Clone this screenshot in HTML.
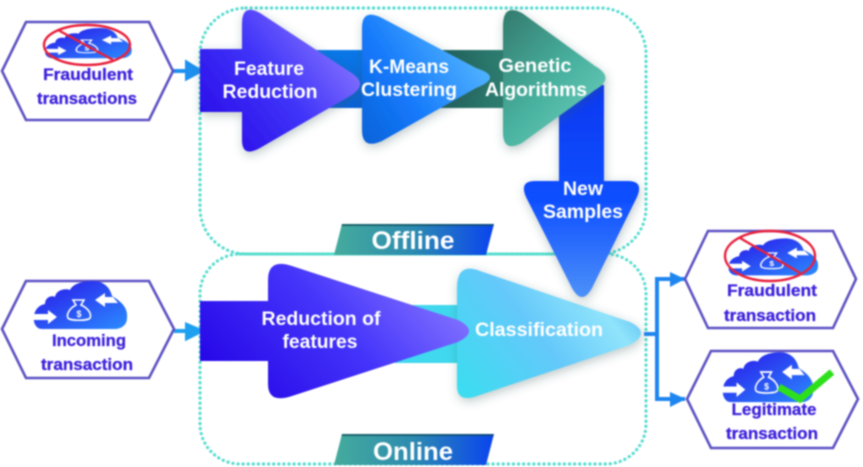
<!DOCTYPE html>
<html>
<head>
<meta charset="utf-8">
<style>
html,body{margin:0;padding:0;background:#fff;width:863px;height:467px;overflow:hidden}
svg{display:block;filter:blur(.7px)}
.w{font-family:"Liberation Sans",sans-serif;font-weight:700;fill:#fff;font-size:19px;text-anchor:middle}
.p{font-family:"Liberation Sans",sans-serif;font-weight:700;fill:#3d22dc;stroke:#3d22dc;stroke-width:.3;font-size:17px;text-anchor:middle}
.h{fill:#fff;stroke:#5c52c2;stroke-width:2.6;stroke-linejoin:miter}
.d{fill:none;stroke:#55dccf;stroke-width:3.2;stroke-dasharray:.1 5;stroke-linecap:round}
</style>
</head>
<body>
<svg width="863" height="467" viewBox="0 0 863 467" xmlns="http://www.w3.org/2000/svg">
<defs>
<linearGradient id="gf" x1="0" y1="1" x2="1" y2="0.3"><stop offset="0" stop-color="#2404e6"/><stop offset=".55" stop-color="#4034f8"/><stop offset="1" stop-color="#8a78ff"/></linearGradient>
<linearGradient id="gk" x1="0" y1="1" x2="1" y2="0.35"><stop offset="0" stop-color="#0a62d8"/><stop offset=".4" stop-color="#1478fa"/><stop offset="1" stop-color="#55b8ff"/></linearGradient>
<linearGradient id="gg" x1="0.1" y1="0" x2="0.9" y2="1"><stop offset="0" stop-color="#357f72"/><stop offset=".5" stop-color="#48b09e"/><stop offset="1" stop-color="#70d2bf"/></linearGradient>
<linearGradient id="gd" x1="0" y1="0" x2="0" y2="1"><stop offset="0" stop-color="#0838f0"/><stop offset=".55" stop-color="#1050ff"/><stop offset="1" stop-color="#4c90f8"/></linearGradient>
<linearGradient id="gr" x1="0" y1=".8" x2="1" y2=".35"><stop offset="0" stop-color="#2404e6"/><stop offset=".55" stop-color="#4434fa"/><stop offset="1" stop-color="#8474ff"/></linearGradient>
<linearGradient id="gc" x1="0" y1=".9" x2="1" y2=".35"><stop offset="0" stop-color="#3cdcf0"/><stop offset=".5" stop-color="#64c8fa"/><stop offset=".85" stop-color="#90e4fb"/><stop offset="1" stop-color="#60c4f4"/></linearGradient>
<linearGradient id="gs1" x1="0" y1="0" x2="0" y2="1"><stop offset="0" stop-color="#0a78e8"/><stop offset="1" stop-color="#0a60d8"/></linearGradient>
<linearGradient id="gs2" x1="0" y1="0" x2="1" y2="0"><stop offset="0" stop-color="#1f5f5c"/><stop offset="1" stop-color="#2f8272"/></linearGradient>
<linearGradient id="gl" x1="0" y1="0" x2="1" y2="0"><stop offset="0" stop-color="#45ac9c"/><stop offset=".5" stop-color="#2c8ab0"/><stop offset="1" stop-color="#0a44f0"/></linearGradient>
<linearGradient id="gcl" x1="0" y1="0" x2="1" y2="1"><stop offset="0" stop-color="#2a14e8"/><stop offset="1" stop-color="#2a8cff"/></linearGradient>
<filter id="sh" x="-20%" y="-20%" width="140%" height="140%"><feDropShadow dx="1" dy="3" stdDeviation="5" flood-color="#355" flood-opacity=".33"/></filter>
<g id="cloud">
<path fill="url(#gcl)" d="M42 329C31 329 30 307 45 304C45 297 52 295 55 297C56 290 65 288 70 290C73 283 85 281 93 281C103 281 110 287 112 296C122 302 128 308 127 318C127 326 120 329 115 329Z"/>
<path fill="#fff" d="M33 314H48V310L57 317L48 324V320H33Z"/>
<path fill="#fff" d="M95 300L105 293V297H113L118 303H105V307Z"/>
<path fill="none" stroke="#fff" stroke-width="1.6" d="M73 300H84L81 305C88 308 92 314 90 318C88 321 70 321 68 318C66 314 70 308 76 305Z"/>
<text x="79" y="317" font-family="Liberation Sans,sans-serif" font-size="9" font-weight="700" fill="#fff" text-anchor="middle">$</text>
</g>
</defs>

<rect class="d" x="200" y="8" width="446" height="246" rx="46"/>
<rect class="d" x="200" y="254" width="446" height="210" rx="40"/>

<!-- input arrows -->
<path d="M173 71H188M187 63L200 71L187 78Z" stroke="#1e90f0" stroke-width="4" fill="#1e90f0"/>
<path d="M174 331H190M187 325L201 331L187 338Z" stroke="#1ea0f0" stroke-width="4" fill="#1ea0f0"/>

<!-- output connector -->
<path d="M644 334H657M685 279H657V399H685" fill="none" stroke="#1e86f0" stroke-width="4"/>
<path d="M670 272L685 279L670 287Z M670 392L686 399L670 407Z" fill="#1e86f0"/>

<!-- online -->
<g>
<rect x="395" y="305" width="70" height="58" fill="#40d8ee"/>
<path filter="url(#sh)" fill="url(#gc)" d="M457 288Q457 262 480 271L630 322Q652 333 630 345L480 395Q457 404 457 386Z"/>
<path fill="url(#gr)" d="M200 301H268V280Q268 258 292 266L458 320Q480 331 458 342L292 396Q268 404 268 384V361H200Z"/>
</g>

<!-- offline -->
<path filter="url(#sh)" fill="url(#gd)" d="M559 85H604V181H628Q644 181 637 197L592 288Q582 306 572 288L526 197Q519 181 535 181H559Z"/>
<rect x="440" y="50" width="70" height="58" fill="url(#gs2)"/>
<path filter="url(#sh)" fill="url(#gg)" d="M503 26Q503 3 522 13L595 66Q616 78 595 90L522 143Q503 153 503 132Z"/>
<rect x="315" y="50" width="55" height="58" fill="url(#gs1)"/>
<path filter="url(#sh)" fill="url(#gk)" d="M362 28Q362 8 382 18L476 68Q504 77 476 88L382 141Q362 150 362 130Z"/>
<path filter="url(#sh)" fill="url(#gf)" d="M200 49H242V24Q242 3 260 13L350 72Q370 84 350 96L260 148Q242 158 242 140V112H200Z"/>

<!-- labels -->
<path fill="url(#gl)" d="M342 224H494L486 255H334Z"/>
<path fill="#0d4a58" opacity=".7" d="M342 224H494L493.5 226H341.5Z"/>
<path fill="url(#gl)" d="M342 434H494L486 465H334Z"/>
<path fill="#0d4a58" opacity=".7" d="M342 434H494L493.5 436H341.5Z"/>

<g class="w">
<text class="w" x="269" y="75" textLength="70" lengthAdjust="spacingAndGlyphs">Feature</text>
<text class="w" x="270" y="98" textLength="95" lengthAdjust="spacingAndGlyphs">Reduction</text>
<text class="w" x="409" y="73" textLength="80" lengthAdjust="spacingAndGlyphs">K-Means</text>
<text class="w" x="409" y="96" textLength="96" lengthAdjust="spacingAndGlyphs">Clustering</text>
<text class="w" x="535" y="72" textLength="73" lengthAdjust="spacingAndGlyphs">Genetic</text>
<text class="w" x="536" y="96" textLength="102" lengthAdjust="spacingAndGlyphs">Algorithms</text>
<text class="w" x="583" y="195" textLength="40" lengthAdjust="spacingAndGlyphs">New</text>
<text class="w" x="583" y="218" textLength="80" lengthAdjust="spacingAndGlyphs">Samples</text>
<text class="w" x="321" y="325" textLength="119" lengthAdjust="spacingAndGlyphs">Reduction of</text>
<text class="w" x="320" y="348" textLength="75" lengthAdjust="spacingAndGlyphs">features</text>
<text class="w" x="539" y="336" textLength="128" lengthAdjust="spacingAndGlyphs">Classification</text>
<text class="w" style="font-size:25px" x="413" y="249" textLength="83" lengthAdjust="spacingAndGlyphs">Offline</text>
<text class="w" style="font-size:25px" x="413" y="460" textLength="80" lengthAdjust="spacingAndGlyphs">Online</text>
</g>

<!-- hexagons -->
<path class="h" d="M2 71L26 22H149L173 71L149 120H26Z"/>
<path class="h" d="M2 329L26 281H149L174 329L149 378H26Z"/>
<path class="h" d="M685 279L708 231H833L856 279L833 328H708Z"/>
<path class="h" d="M687 399L711 351H833L858 399L833 448H711Z"/>

<!-- clouds -->
<use href="#cloud"/>
<use href="#cloud" transform="translate(13.5 -149) scale(.93 .63)"/>
<use href="#cloud" transform="translate(696 22) scale(.96 .77)"/>
<use href="#cloud" transform="translate(690 60) scale(.97 1.04)"/>

<!-- prohibited -->
<g fill="none" stroke="#e8203c" stroke-width="2.4">
<ellipse cx="87" cy="45" rx="43" ry="20"/>
<path d="M58 30L113 60"/>
<ellipse cx="770" cy="256" rx="45" ry="25"/>
<path d="M740 238L800 273"/>
</g>
<!-- check -->
<path d="M779 387L800 399L832 372" fill="none" stroke="#2ee01c" stroke-width="7"/>

<!-- purple labels -->
<text class="p" x="88" y="80" textLength="90" lengthAdjust="spacingAndGlyphs">Fraudulent</text>
<text class="p" x="87" y="104" textLength="100" lengthAdjust="spacingAndGlyphs">transactions</text>
<text class="p" x="89" y="346" textLength="74" lengthAdjust="spacingAndGlyphs">Incoming</text>
<text class="p" x="87" y="370" textLength="92" lengthAdjust="spacingAndGlyphs">transaction</text>
<text class="p" x="772" y="296" textLength="90" lengthAdjust="spacingAndGlyphs">Fraudulent</text>
<text class="p" x="770" y="321" textLength="92" lengthAdjust="spacingAndGlyphs">transaction</text>
<text class="p" x="774" y="415" textLength="85" lengthAdjust="spacingAndGlyphs">Legitimate</text>
<text class="p" x="772" y="439" textLength="92" lengthAdjust="spacingAndGlyphs">transaction</text>
</svg>
</body>
</html>
